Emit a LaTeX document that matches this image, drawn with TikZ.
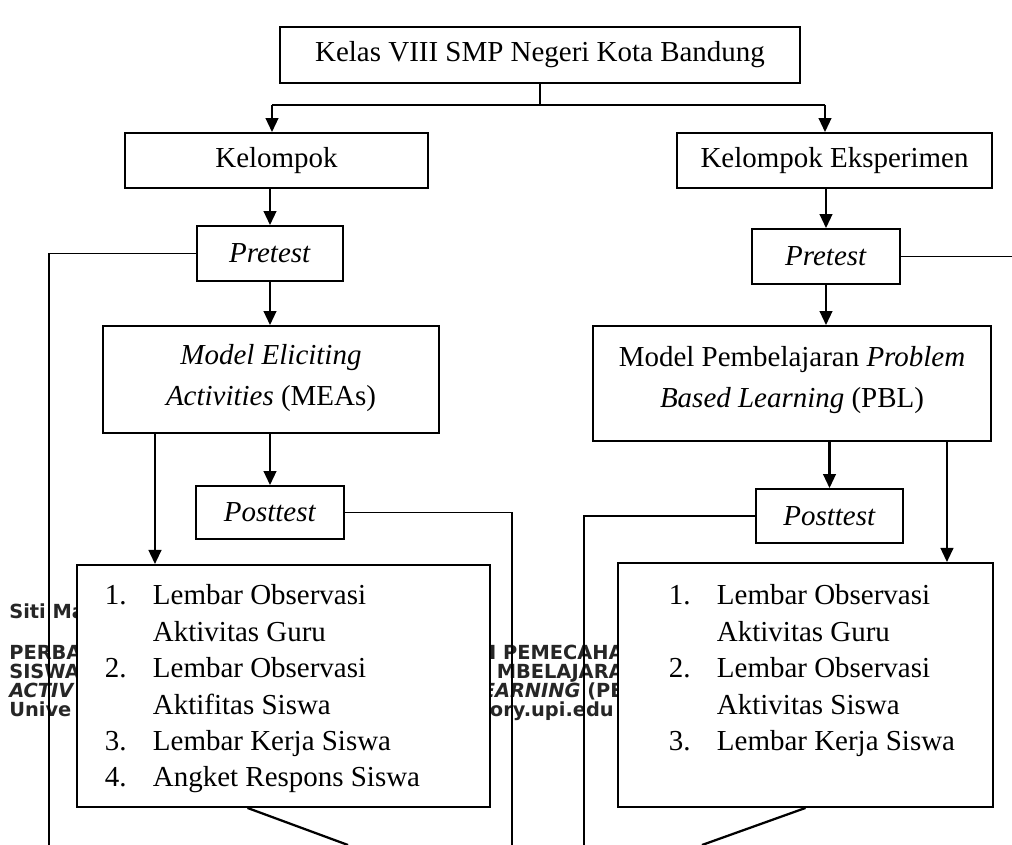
\documentclass[tikz,border=0pt]{standalone}
\usepackage{fontspec}
\setmainfont{Liberation Serif}
\newfontfamily\footfont{DejaVu Sans}
\usetikzlibrary{arrows.meta,positioning}

\begin{document}
\begin{tikzpicture}[x=0.025cm,y=-0.025cm,
flowbox/.style={draw,line width=1.3pt,fill=white,inner sep=0pt,align=center,
  font=\fontsize{20.6}{29}\selectfont},
flowarrow/.style={line width=1.6pt,-{Triangle[length=10pt,width=9pt]}},
thinline/.style={line width=0.9pt},
footer/.style={font=\footfont\bfseries\fontsize{13.8}{16}\selectfont,
  text=black!85,inner sep=0pt}]

\useasboundingbox (0,0) rectangle (1012,845);

% page footer behind the chart
\node[footer,anchor=base west] (ft1) at (9,618) {Siti Ma};
\node[footer,anchor=base west] (ft2) at (9,659) {PERBA};
\node[footer,anchor=base west] (ft3) at (9,678) {SISWA};
\node[footer,anchor=base west] (ft4) at (9,697) {\itshape ACTIV};
\node[footer,anchor=base west] (ft5) at (9,716) {Unive};
\node[footer,anchor=base east] (fm2) at (624,659) {N PEMECAHA};
\node[footer,anchor=base east] (fm3) at (624,678) {MBELAJARA};
\node[footer,anchor=base east] (fm4) at (624,697) {\textit{EARNING} (PE};
\node[footer,anchor=base east] (fm5) at (614,716) {ory.upi.edu};

% boxes
\node[flowbox,minimum width=13cm,minimum height=1.4cm] (kelas) at (540,55)
{Kelas VIII SMP Negeri Kota Bandung};
\node[flowbox,minimum width=7.575cm,minimum height=1.375cm] (kontrol) at (276.5,160.5)
{Kelompok};
\node[flowbox,minimum width=7.875cm,minimum height=1.375cm] (eksp) at (834.5,160.5)
{Kelompok Eksperimen};
\node[flowbox,minimum width=3.65cm,minimum height=1.375cm] (pre1) at (270,253.5)
{\textit{Pretest}};
\node[flowbox,minimum width=3.7cm,minimum height=1.375cm] (pre2) at (826,256.5)
{\textit{Pretest}};
\node[flowbox,minimum width=8.4cm,minimum height=2.675cm] (meas) at (271,379.5)
{\textit{Model Eliciting}\\\textit{Activities} (MEAs)\\[-22pt]\mbox{}};
\node[flowbox,minimum width=9.95cm,minimum height=2.875cm] (pbl) at (792,383.5)
{Model Pembelajaran \textit{Problem}\\\textit{Based Learning} (PBL)\\[-20pt]\mbox{}};
\node[flowbox,minimum width=3.7cm,minimum height=1.325cm] (post1) at (270,512.5)
{\textit{Posttest}};
\node[flowbox,minimum width=3.675cm,minimum height=1.35cm] (post2) at (829.5,516)
{\textit{Posttest}};

\node[flowbox,minimum width=10.325cm,minimum height=6.05cm] (list1) at (283.5,686)
{\begin{minipage}[c][6.05cm][t]{10.325cm}
\vspace*{0.36cm}\fontsize{20.6}{25.9}\selectfont\noindent
\begin{tabular}{@{\hspace{0.7cm}}p{1.2cm}@{}l@{}}
1. & Lembar Observasi\\
   & Aktivitas Guru\\
2. & Lembar Observasi\\
   & Aktifitas Siswa\\
3. & Lembar Kerja Siswa\\
4. & Angket Respons Siswa
\end{tabular}
\end{minipage}};
\node[flowbox,minimum width=9.375cm,minimum height=6.1cm] (list2) at (805.5,685)
{\begin{minipage}[c][6.1cm][t]{9.375cm}
\vspace*{0.41cm}\fontsize{20.6}{25.9}\selectfont\noindent
\begin{tabular}{@{\hspace{1.275cm}}p{1.2cm}@{}l@{}}
1. & Lembar Observasi\\
   & Aktivitas Guru\\
2. & Lembar Observasi\\
   & Aktivitas Siswa\\
3. & Lembar Kerja Siswa
\end{tabular}
\end{minipage}};

% connectors
\coordinate (busL) at (272,105);
\coordinate (busR) at (825,105);
\coordinate (railL) at (49,845);
\coordinate (railR) at (1012,258);
\coordinate (railM1) at (512,845);
\coordinate (railM2) at (584,845);
\coordinate (endL) at (348,845);
\coordinate (endR) at (702,845);
\coordinate (measL) at ([xshift=-2.9cm]meas.south);
\coordinate (pblR) at ([xshift=-1.125cm]pbl.south east);
\coordinate (list1B) at ([xshift=-0.9cm]list1.south);

\draw[thinline] (kelas.south) -- (kelas.south |- busL);
\draw[line width=1.3pt] (busL) -- (busR);
\draw[flowarrow] (busL) -- (busL |- kontrol.north);
\draw[flowarrow] (busR) -- (busR |- eksp.north);
\draw[flowarrow] (pre1.north |- kontrol.south) -- (pre1.north);
\draw[flowarrow] (pre2.north |- eksp.south) -- (pre2.north);
\draw[flowarrow] (pre1.south) -- (pre1.south |- meas.north);
\draw[flowarrow] (pre2.south) -- (pre2.south |- pbl.north);
\draw[flowarrow] (post1.north |- meas.south) -- (post1.north);
\draw[flowarrow] (measL) -- (measL |- list1.north);
\draw[flowarrow] (post2.north |- pbl.south) -- (post2.north);
\draw[flowarrow] (pblR) -- (pblR |- list2.north);
\draw[thinline] (pre1.west) -| (railL);
\draw[thinline] (pre2.east) -- (pre2.east -| railR);
\draw[thinline] (post1.east) -| (railM1);
\draw[thinline] (post2.west) -| (railM2);
\draw[line width=1.6pt] (list1B) -- (endL);
\draw[line width=1.6pt] (list2.south) -- (endR);

\end{tikzpicture}
\end{document}
